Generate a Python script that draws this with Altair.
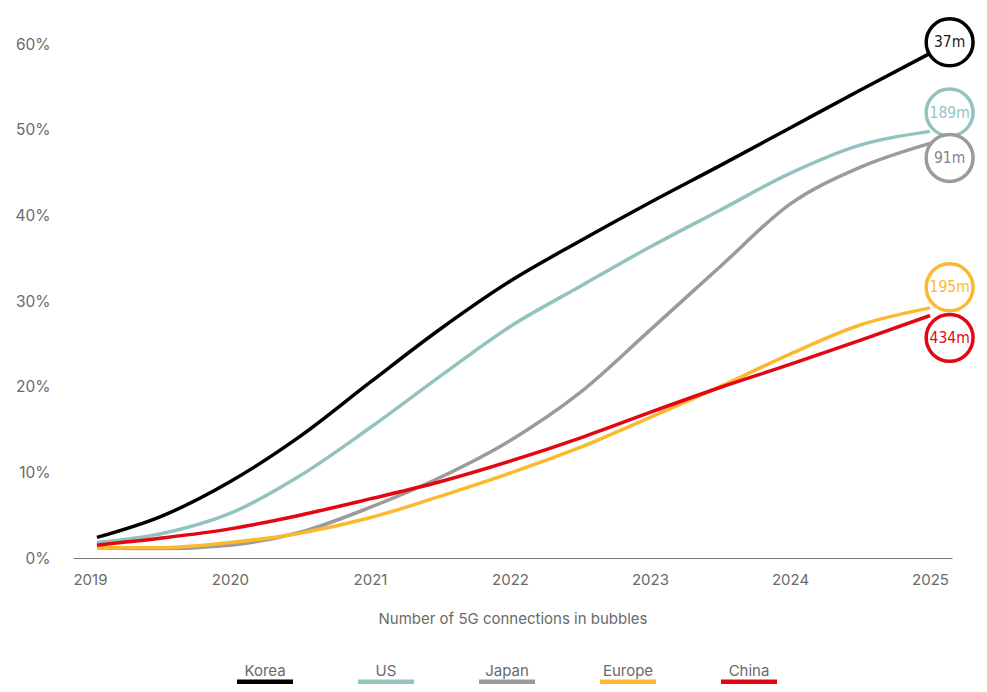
import altair as alt
import pandas as pd

countries = ["Korea", "US", "Japan", "Europe", "China"]
colors = ["#000000", "#93c3bf", "#9b9b9b", "#fdb92e", "#e30613"]

years = [2019.05, 2019.5, 2020, 2020.5, 2021, 2021.5, 2022, 2022.5, 2023, 2023.5, 2024, 2024.5, 2025]
korea = [2.4, 4.8, 8.9, 14.2, 20.5, 26.7, 32.3, 37.0, 41.5, 45.8, 50.2, 54.6, 58.9]
us = [1.8, 2.8, 5.2, 9.6, 15.2, 21.2, 27.0, 31.7, 36.3, 40.6, 44.9, 48.2, 49.8]
japan = [1.2, 1.1, 1.5, 3.0, 5.9, 9.4, 13.7, 19.3, 26.6, 34.0, 41.3, 45.6, 48.4]
europe = [1.2, 1.2, 1.8, 2.9, 4.7, 7.2, 9.9, 12.9, 16.4, 20.0, 23.8, 27.2, 29.2]
china = [1.5, 2.3, 3.4, 5.0, 6.9, 8.9, 11.3, 14.0, 17.0, 19.9, 22.6, 25.4, 28.3]
series = [korea, us, japan, europe, china]

bubble_year = 2025.14
bubble_values = [60.2, 52.0, 46.7, 31.6, 25.7]
bubble_labels = ["37m", "189m", "91m", "195m", "434m"]
bubble_text_colors = ["#1c1c2a", "#93c3bf", "#7d8296", "#fdb92e", "#e30613"]

x_ticks = [2019, 2020, 2021, 2022, 2023, 2024, 2025]
y_ticks = [0, 10, 20, 30, 40, 50, 60]
x_title = "Number of 5G connections in bubbles"

FONT = "Inter"
TXT = "#6a6a6a"
NARROW = "DejaVu Sans Condensed, Liberation Sans Narrow, DejaVu Sans, sans-serif"

rows = []
for c, col, vals in zip(countries, colors, series):
    for yr, v in zip(years, vals):
        rows.append({"country": c, "color": col, "year": yr, "value": v})
lines_df = pd.DataFrame(rows)

bubbles_df = pd.DataFrame({
    "country": countries,
    "color": colors,
    "year": [bubble_year] * 5,
    "value": bubble_values,
    "label": bubble_labels,
    "tcolor": bubble_text_colors,
})
legend_df = pd.DataFrame({"country": countries, "color": colors})

x_scale = alt.Scale(domain=[2018.879, 2025.157], nice=False, zero=False)
y_scale = alt.Scale(domain=[0, 60], nice=False)

x_enc = alt.X("year:Q", scale=x_scale, axis=alt.Axis(
    values=x_ticks, format="d", title=x_title, ticks=False, grid=False,
    domainColor="#777777", domainWidth=1.2, labelColor=TXT, labelFont=FONT,
    labelFontSize=15, labelPadding=14, titleFont=FONT, titleFontSize=15,
    titleFontWeight="normal", titleColor=TXT, titlePadding=24))
y_enc = alt.Y("value:Q", scale=y_scale, axis=alt.Axis(
    values=y_ticks, labelExpr="datum.value + '%'", domain=False, ticks=False,
    grid=False, labelPadding=23, title=None, labelColor=TXT, labelFont=FONT,
    labelFontSize=15.5))

layers = []
for c in countries:
    layers.append(
        alt.Chart(lines_df).transform_filter(alt.datum.country == c)
        .mark_line(strokeWidth=3.5, interpolate="monotone")
        .encode(x=x_enc, y=y_enc, color=alt.Color("color:N", scale=None))
    )
for c in countries:
    layers.append(
        alt.Chart(bubbles_df).transform_filter(alt.datum.country == c)
        .mark_point(shape="circle", size=2200, strokeWidth=3.5, filled=True,
                    fill="white", fillOpacity=1, opacity=1)
        .encode(x=x_enc, y=y_enc, stroke=alt.Stroke("color:N", scale=None))
    )
    layers.append(
        alt.Chart(bubbles_df).transform_filter(alt.datum.country == c)
        .mark_text(font=NARROW, fontSize=15.5, baseline="middle", align="center")
        .encode(x=x_enc, y=y_enc, text="label:N", color=alt.Color("tcolor:N", scale=None))
    )
main = alt.layer(*layers)

lx = alt.X("country:N", scale=alt.Scale(type="point", domain=countries, range=[192, 676], padding=0), axis=None)
legend_text = alt.Chart(legend_df).mark_text(font=FONT, fontSize=15, color=TXT, baseline="middle").encode(
    x=lx, y=alt.value(627), text="country:N")
legend_rule = alt.Chart(legend_df).mark_rule(strokeWidth=5, xOffset=-28, x2Offset=28).encode(
    x=lx, x2=alt.X2("country"), y=alt.value(638), color=alt.Color("color:N", scale=None))
legend = alt.layer(legend_text, legend_rule)

chart = alt.layer(main, legend).resolve_scale(x="independent").properties(
    width=879, height=514,
    background="white",
    autosize=alt.AutoSizeParams(type="none"),
    padding={"left": 65, "top": 36, "right": 27, "bottom": 126},
).configure_view(stroke=None)

chart.save("out.html", embed_options={"renderer": "svg", "actions": False})
